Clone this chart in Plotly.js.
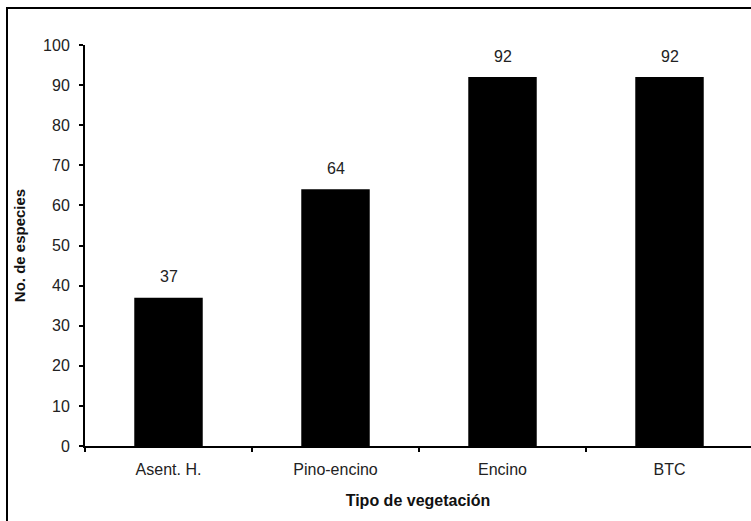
<!DOCTYPE html>
<html>
<head>
<meta charset="utf-8">
<script src="https://cdn.plot.ly/plotly-3.0.1.min.js"></script>
<style>
  html, body { margin: 0; padding: 0; background: #fff; overflow: hidden; }
  #wrap { position: relative; width: 751px; height: 521px; }
  #chart { position: absolute; left: 0; top: 0; width: 751px; height: 521px; }
  #frame { position: absolute; left: 6px; top: 7px; width: 900px; height: 700px;
           border: 2px solid #000; pointer-events: none; }
</style>
</head>
<body>
<div id="wrap">
  <div id="chart"></div>
  <div id="frame"></div>
</div>
<script>
const categories = ["Asent. H.", "Pino-encino", "Encino", "BTC"];
const especies = [37, 64, 92, 92];
const yTickValues = [0, 10, 20, 30, 40, 50, 60, 70, 80, 90, 100];

const FONT = "Arial, 'Liberation Sans', sans-serif";

const trace = {
  type: "bar",
  x: categories,
  y: especies,
  width: 0.41,
  marker: { color: "#000000", line: { width: 0 } },
  hoverinfo: "skip"
};

const annotations = categories.map((c, i) => ({
  x: c, y: especies[i], xref: "x", yref: "y",
  text: String(especies[i]), showarrow: false,
  yanchor: "middle", yshift: 21,
  font: { family: FONT, size: 16, color: "#222" }
}));

const plotWidth = 751 - 85;
const catWidth = 167;

const layout = {
  width: 751, height: 521,
  margin: { l: 85, r: 0, t: 45, b: 75, pad: 0 },
  paper_bgcolor: "#ffffff",
  plot_bgcolor: "#ffffff",
  showlegend: false,
  font: { family: FONT, color: "#222" },
  xaxis: {
    type: "category",
    range: [-0.5, -0.5 + plotWidth / catWidth],
    showline: true, linecolor: "#000", linewidth: 2,
    showgrid: false, zeroline: false,
    ticks: "outside", tickson: "boundaries", ticklen: 4, tickwidth: 2, tickcolor: "#000",
    ticklabelstandoff: 8,
    tickfont: { family: FONT, size: 16, color: "#222" },
    title: { text: "<b>Tipo de vegetación</b>", standoff: 18,
             font: { family: FONT, size: 16, color: "#111" } },
    automargin: false
  },
  yaxis: {
    range: [0, 100],
    tickvals: yTickValues,
    showline: true, linecolor: "#000", linewidth: 2,
    showgrid: false, zeroline: false,
    ticks: "outside", ticklen: 4, tickwidth: 2, tickcolor: "#000",
    ticklabelstandoff: 6,
    tickfont: { family: FONT, size: 16, color: "#222" },
    title: { text: "<b>No. de especies</b>", standoff: 14,
             font: { family: FONT, size: 15, color: "#111" } },
    automargin: false
  },
  annotations: annotations
};

Plotly.newPlot("chart", [trace], layout, { displayModeBar: false, staticPlot: true });
</script>
</body>
</html>
